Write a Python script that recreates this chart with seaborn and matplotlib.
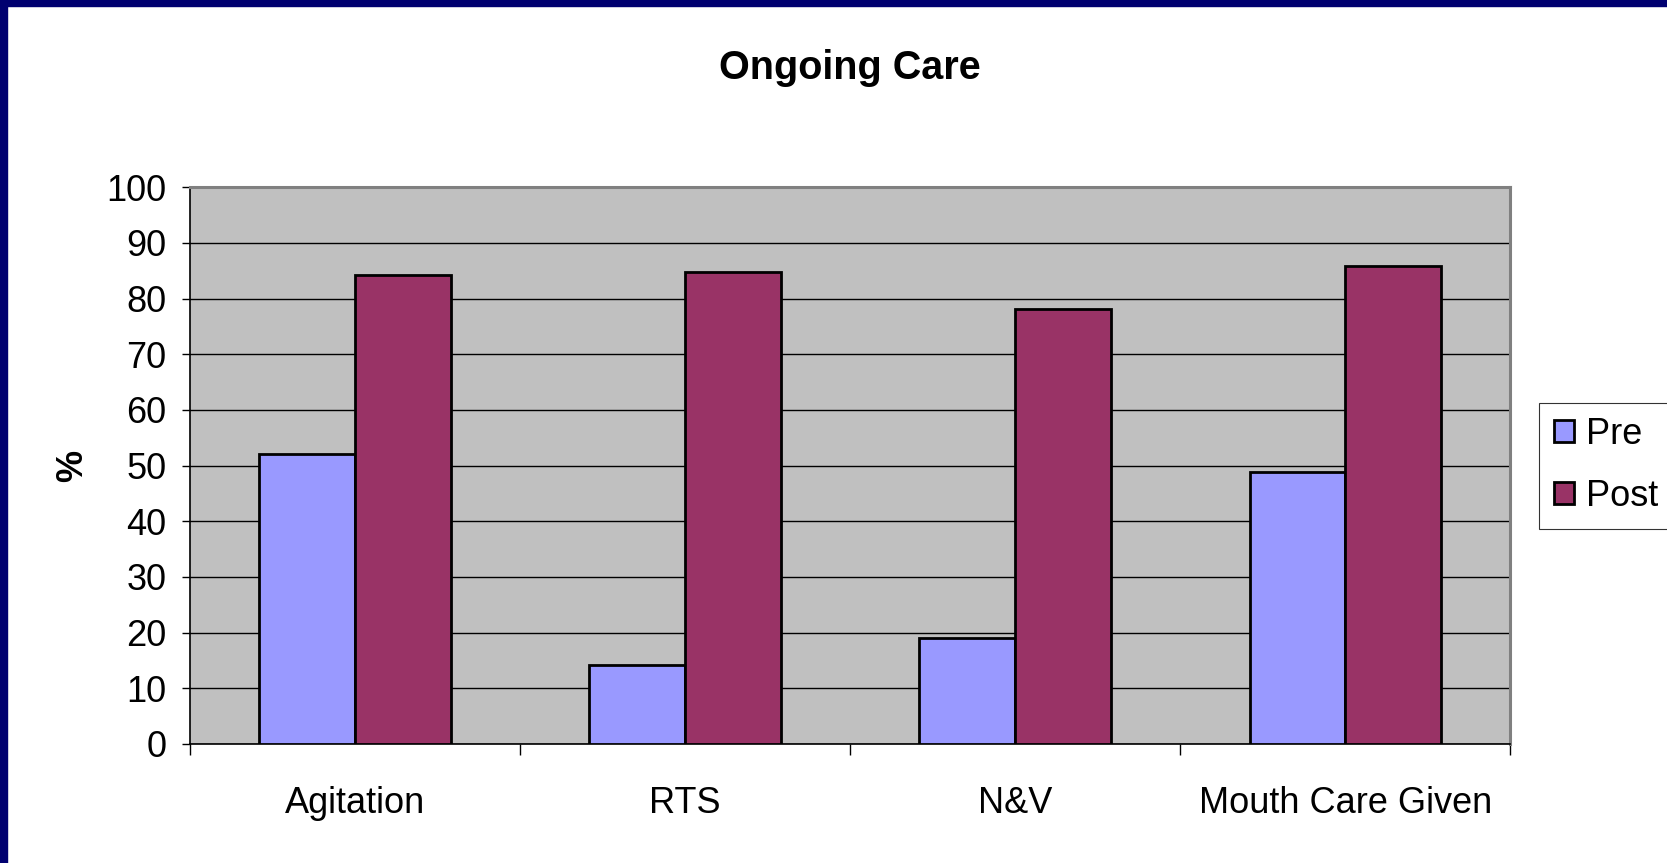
import pandas as pd
import seaborn as sns
import matplotlib.pyplot as plt
from matplotlib.patches import Rectangle

# Data
categories = ['Agitation', 'RTS', 'N&V', 'Mouth Care Given']
pre_values = [52.1, 14.1, 19.1, 48.9]
post_values = [84.2, 84.7, 78.2, 85.9]
series_names = ['Pre', 'Post']
y_ticks = list(range(0, 101, 10))

df = pd.DataFrame({
    'category': categories * 2,
    'value': pre_values + post_values,
    'series': [series_names[0]] * len(categories) + [series_names[1]] * len(categories),
})

sns.set_style('white')
plt.rcParams['font.family'] = ['Liberation Sans', 'DejaVu Sans']
plt.rcParams['text.color'] = 'black'
plt.rcParams['xtick.color'] = 'black'
plt.rcParams['ytick.color'] = 'black'
plt.rcParams['axes.labelcolor'] = 'black'

fig = plt.figure(figsize=(16.67, 8.63), dpi=100)
ax = fig.add_axes([0.114, 0.138, 0.792, 0.645])
ax.set_facecolor('#C0C0C0')

sns.barplot(data=df, x='category', y='value', hue='series', order=categories,
            hue_order=series_names, palette=['#9999FF', '#993366'],
            width=0.58, gap=0, edgecolor='black', linewidth=2.0,
            saturation=1, ax=ax, zorder=3)

# Gridlines
ax.set_ylim(0, 100)
ax.set_yticks(y_ticks)
ax.yaxis.grid(True, color='black', linewidth=1.0, zorder=1)
ax.set_axisbelow(True)
ax.set_xlim(-0.5, len(categories) - 0.5)

# Category ticks on boundaries
ax.set_xticks(range(len(categories)))
ax.set_xticklabels(categories, fontsize=26)
ax.set_xticks([i - 0.5 for i in range(len(categories) + 1)], minor=True)
ax.tick_params(axis='x', which='major', length=0, pad=30)
ax.tick_params(axis='x', which='minor', length=8, width=1, color='black', direction='out', bottom=True)
ax.tick_params(axis='y', length=6, width=1, color='black', direction='out', labelsize=26, pad=11, left=True)

ax.set_xlabel('')
ax.set_ylabel('%', fontsize=26, fontweight='bold', labelpad=12)
ax.set_title('Ongoing Care', fontsize=28.5, fontweight='bold', pad=78)

for side in ['top', 'right']:
    ax.spines[side].set_color('#808080')
    ax.spines[side].set_linewidth(2.2)
for side in ['left', 'bottom']:
    ax.spines[side].set_color('black')
    ax.spines[side].set_linewidth(1.2)

leg = ax.legend(loc='center left', bbox_to_anchor=(1.022, 0.5), fontsize=26,
                frameon=True, fancybox=False, edgecolor='black',
                handlelength=0.55, handleheight=0.55, handletextpad=0.35,
                borderpad=0.4, labelspacing=0.75, borderaxespad=0)
leg.get_frame().set_linewidth(0.8)
for h in leg.legend_handles:
    h.set_linewidth(2.0)

# Slide border (left and top)
fig.patches.append(Rectangle((0, 0), 7 / 1667, 1, transform=fig.transFigure,
                             color='#000070', zorder=10))
fig.patches.append(Rectangle((0, 1 - 6 / 863), 1, 6 / 863, transform=fig.transFigure,
                             color='#000070', zorder=10))

fig.savefig('out.png', dpi=100, facecolor='white')
